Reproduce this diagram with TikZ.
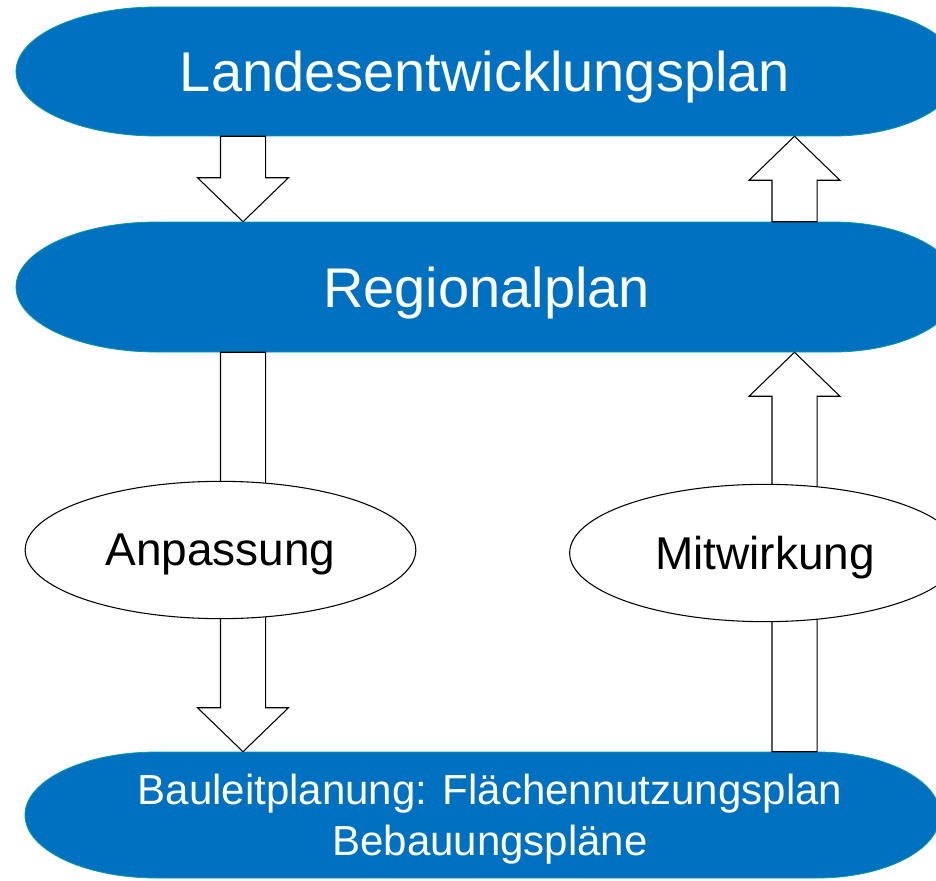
\documentclass[tikz,border=0pt]{standalone}
\usepackage{fontspec}
\setmainfont{Liberation Sans}
\usepackage{xcolor}
\usepackage{tikz}
\usetikzlibrary{calc,shapes.geometric}
\definecolor{planblue}{RGB}{0,113,193}
\definecolor{planedge}{RGB}{0,154,154}

\newcommand{\blockarrow}[2]{%
	\coordinate (bs) at (#1); \coordinate (bt) at (#2);
	\coordinate (hb) at ($(bt)!33pt!(bs)$);
	\draw[blockarr] ($(bs)!16.9pt!90:(bt)$) -- ($(hb)!16.9pt!90:(bt)$) -- ($(hb)!34.1pt!90:(bt)$) -- (bt)
		-- ($(hb)!34.1pt!-90:(bt)$) -- ($(hb)!16.9pt!-90:(bt)$) -- ($(bs)!16.9pt!-90:(bt)$) -- cycle;}

\begin{document}
\begin{tikzpicture}[x=0.75pt,y=-0.75pt,
	band/.style={fill=planblue,draw=planedge,line width=0.6pt},
	bandtext/.style={text=white,inner sep=0pt,text depth=0pt,font=\fontsize{42}{50}\selectfont},
	blockarr/.style={draw=black,fill=white,line width=0.8pt,line join=miter},
	oval/.style={ellipse,draw=black,fill=white,line width=0.8pt,inner sep=0pt,minimum width=293pt,minimum height=103pt,text depth=0pt,font=\fontsize{34.5}{41}\selectfont}]
	\clip (0,0) rectangle (936,881);
	\draw[band] (157,7) -- (833,7) arc[start angle=-90,end angle=90,x radius=126,y radius=64.5]
		-- (157,136) arc[start angle=90,end angle=270,x radius=141,y radius=64.5] -- cycle;
	\draw[band] (157,222) -- (833,222) arc[start angle=-90,end angle=90,x radius=126,y radius=65]
		-- (157,352) arc[start angle=90,end angle=270,x radius=141,y radius=65] -- cycle;
	\draw[band] (157,752) -- (817,752) arc[start angle=-90,end angle=90,x radius=123,y radius=63]
		-- (157,878) arc[start angle=90,end angle=270,x radius=132,y radius=63] -- cycle;

	\node[bandtext,minimum height=96.75pt] (lep) at (485,71.5) {Landesentwicklungsplan};
	\node[bandtext,minimum height=97.5pt] (rp) at (486.5,287) {Regionalplan};
	\node[bandtext,minimum height=94.5pt,align=center,font=\fontsize{31.5}{38}\selectfont] (blp) at (490,815)
		{Bauleitplanung: Flächennutzungsplan\\Bebauungspläne};

	\coordinate (colL) at (243,0);
	\coordinate (colR) at (794.5,0);
	\blockarrow{lep.south -| colL}{rp.north -| colL}
	\blockarrow{rp.north -| colR}{lep.south -| colR}
	\blockarrow{rp.south -| colL}{blp.north -| colL}
	\blockarrow{blp.north -| colR}{rp.south -| colR}

	\node[oval] (anp) at (220.5,550) {Anpassung};
	\node[oval] (mitw) at (765,553) {Mitwirkung};
\end{tikzpicture}
\end{document}
